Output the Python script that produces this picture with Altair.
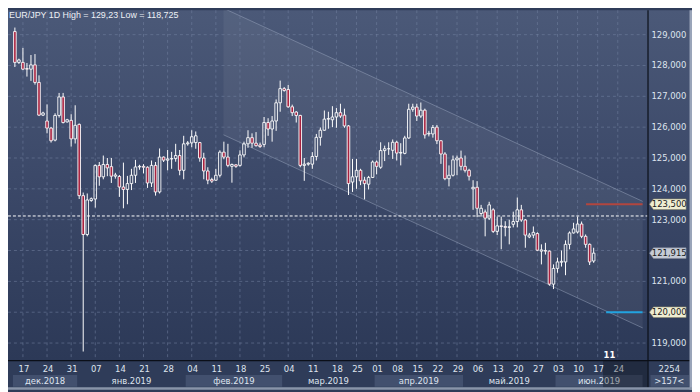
import altair as alt
import pandas as pd

# ---------------- data ----------------
opens = [129.10,128.10,128.10,127.90,127.88,128.02,127.45,126.39,126.20,125.97,
         125.58,126.38,126.98,126.17,126.22,125.62,126.09,123.78,122.52,123.62,
         123.67,124.76,124.39,124.79,124.72,124.41,124.40,124.06,123.98,124.17,
         124.44,124.71,124.73,124.70,124.19,124.76,123.90,125.03,124.93,124.97,
         124.98,125.08,124.60,125.46,125.49,125.50,125.50,125.00,124.58,124.30,
         124.28,124.44,125.19,125.03,124.73,124.78,124.76,125.10,125.46,125.66,
         125.48,125.42,125.44,126.15,125.94,126.20,126.79,127.25,127.22,126.66,
         126.49,126.38,124.76,124.80,124.80,125.05,125.67,125.90,126.26,126.24,
         126.33,126.47,126.39,126.04,124.22,124.39,124.60,124.28,124.15,124.37,
         124.87,124.70,125.24,125.30,125.25,125.51,125.16,125.15,125.65,126.58,
         126.65,126.36,126.55,125.78,125.78,126.00,125.56,125.13,124.33,124.44,
         124.94,125.00,124.73,124.60,124.00,124.05,123.20,123.25,123.05,123.32,
         122.62,122.80,122.78,122.75,122.85,122.94,123.32,122.99,122.44,122.50,
         122.55,121.98,122.00,121.98,120.91,121.42,121.62,121.63,122.20,122.57,
         122.60,122.86,122.46,122.20,121.66]
highs = [129.23,128.22,128.57,128.08,128.34,128.37,127.68,126.50,126.74,126.00,
         126.45,127.11,127.11,126.27,126.42,126.71,126.12,123.88,123.85,123.72,
         124.79,124.87,125.08,125.00,125.00,124.52,124.45,124.85,124.42,124.65,
         124.94,124.78,124.80,124.73,124.92,124.87,125.31,125.05,125.26,125.20,
         125.46,125.26,125.72,125.55,125.90,125.86,125.52,125.17,124.70,124.36,
         124.65,125.25,125.53,125.46,124.82,124.80,125.25,125.53,125.90,125.80,
         125.84,125.50,126.33,126.29,126.36,126.90,127.51,127.30,127.37,126.73,
         126.52,126.40,125.00,124.86,125.19,125.78,125.99,126.54,126.50,126.68,
         126.62,126.76,126.60,126.07,124.97,124.97,124.65,124.39,124.42,124.92,
         124.92,125.51,125.40,125.51,125.60,125.56,125.48,125.72,126.76,126.76,
         126.76,126.80,126.60,125.88,126.07,126.07,125.58,125.19,124.76,125.08,
         125.08,125.24,125.08,124.65,124.28,124.25,123.48,123.33,123.58,123.37,
         123.10,123.10,122.95,123.00,123.26,123.72,123.48,123.02,122.57,122.78,
         122.59,122.20,122.25,122.00,121.55,121.77,122.00,122.33,122.62,122.90,
         123.10,122.94,122.52,122.23,122.09]
lows = [127.95,128.05,127.85,127.64,127.50,127.38,126.36,126.36,125.80,125.50,
        125.54,126.31,126.12,126.15,125.37,125.47,123.67,118.725,122.46,123.58,
        123.39,124.10,124.31,124.41,124.19,124.33,123.74,123.37,123.50,123.96,
        124.19,124.62,124.50,124.03,124.06,123.78,123.85,124.87,124.60,124.65,
        124.88,124.44,124.31,125.40,125.35,125.30,124.88,124.31,124.15,124.19,
        124.26,124.37,124.96,124.70,124.20,124.68,124.72,125.02,125.33,125.33,
        125.37,125.33,125.35,125.72,125.53,125.88,126.50,127.15,126.63,126.36,
        126.15,124.70,124.26,124.75,124.65,124.92,125.40,125.88,125.95,126.00,
        125.98,126.30,125.98,123.80,123.90,124.00,124.12,123.66,123.98,124.35,
        124.47,124.65,124.90,125.10,124.97,124.92,124.76,125.12,125.62,126.50,
        126.20,126.30,125.63,125.70,125.66,125.45,124.81,124.28,124.08,124.40,
        124.44,124.60,124.53,124.27,123.32,123.08,123.10,122.46,122.99,122.57,
        122.50,122.04,122.46,122.20,122.75,122.75,122.93,122.09,122.40,122.40,
        121.98,121.55,121.87,120.86,120.75,121.28,121.48,121.20,122.04,122.55,
        122.55,122.40,122.09,121.53,121.60]
closes = [128.10,128.18,127.88,127.88,128.02,127.45,126.39,126.46,125.97,125.56,
          126.38,126.98,126.15,126.24,125.62,126.06,123.78,122.52,123.64,123.68,
          124.76,124.39,124.79,124.68,124.41,124.45,124.06,123.98,124.17,124.44,
          124.71,124.73,124.70,124.19,124.76,123.90,125.03,124.93,124.97,124.98,
          125.08,124.60,125.46,125.49,125.69,125.72,125.00,124.58,124.28,124.25,
          124.44,125.19,125.03,124.76,124.79,124.73,125.10,125.46,125.66,125.48,
          125.40,125.37,126.15,125.94,126.20,126.79,127.25,127.19,126.66,126.47,
          126.38,124.76,124.80,124.83,125.05,125.67,125.90,126.26,126.28,126.33,
          126.47,126.36,126.04,124.17,124.39,124.60,124.26,124.17,124.37,124.87,
          124.73,125.24,125.30,125.30,125.51,125.16,125.18,125.65,126.58,126.65,
          126.36,126.55,125.75,125.80,125.99,125.56,125.13,124.33,124.44,124.94,
          125.00,124.73,124.60,124.41,124.05,123.37,123.37,123.05,123.48,122.62,
          122.80,122.78,122.75,122.77,122.94,123.32,122.99,122.50,122.50,122.59,
          122.01,122.02,121.98,120.91,121.42,121.63,121.65,122.20,122.57,122.70,
          122.86,122.46,122.20,121.63,121.915]

price_ticks = [119, 120, 121, 122, 123, 124, 125, 126, 127, 128, 129]
price_labels_shown = [119, 121, 123, 124, 125, 126, 127, 128, 129]  # 120 and 122 sit under the tags
week_labels = ["17", "24", "31", "07", "14", "21", "28", "04", "11", "18", "25", "04", "11", "18",
               "25", "01", "08", "15", "22", "29", "06", "13", "20", "27", "03", "10", "17", "24"]
week_idx = [2, 8, 14, 20, 26, 32, 38, 44, 50, 56, 62, 68, 74, 80,
            85, 90, 95, 100, 105, 110, 115, 120, 125, 130, 135, 140, 145, 150]
month_names = ["дек.2018", "янв.2019", "фев.2019", "мар.2019", "апр.2019", "май.2019", "июн.2019"]
month_start = [-0.48, 15.5, 42.5, 66.5, 89.5, 111.5, 134.5]
month_end = [15.5, 42.5, 66.5, 89.5, 111.5, 134.5, 156.17]
month_shaded = [True, False, True, False, True, False, True]

channel_idx = [51.9, 156.2]
channel_upper = [129.856, 123.594]
channel_lower = [125.753, 119.49]

dashed_level = 123.12
red_level, red_from = 123.5, 142.1
blue_level, blue_from = 120.0, 147.1
level_tags = [123.5, 120.0]
last_price = 121.915
title_text = "EUR/JPY 1D  High = 129,23 Low = 118,725"
corner_top, corner_bottom = "2254", ">157<"
marker_text = "11"

# ---------------- layout ----------------
W, H = 647, 354
AXW, AXH = 45, 30
XMIN, XMAX = -0.484, 156.17
FONT = "Liberation Sans Narrow, DejaVu Sans Condensed, Liberation Sans, sans-serif"
TXT = "#dfe4ee"

xs = alt.Scale(domain=[XMIN, XMAX], nice=False, zero=False)
ys = alt.Scale(domain=[118.446, 129.792], nice=False, zero=False)


def X(f, **kw):
    return alt.X(f, type="quantitative", scale=xs, axis=None, **kw)


def Y(f, **kw):
    return alt.Y(f, type="quantitative", scale=ys, axis=None, **kw)


def fmt(v):
    return f"{v:.3f}".replace(".", ",")


one = pd.DataFrame({"a": [0]})

df = pd.DataFrame({"i": range(len(opens)), "o": opens, "h": highs, "l": lows, "c": closes})
df["top"] = df[["o", "c"]].max(axis=1)
df["bot"] = df[["o", "c"]].min(axis=1)
df["bear"] = df["c"] < df["o"]

grad = alt.Gradient(gradient="linear", x1=0, x2=0, y1=0, y2=1,
                    stops=[alt.GradientStop(color="#4b5978", offset=0),
                           alt.GradientStop(color="#3b4868", offset=0.5),
                           alt.GradientStop(color="#2c3957", offset=1)])
bg = alt.Chart(one).mark_rect(fill=grad).encode(
    x=alt.value(0), x2=alt.value(W + AXW), y=alt.value(0), y2=alt.value(H))

chan = pd.DataFrame({"i": channel_idx, "up": channel_upper, "lo": channel_lower})
chan_area = alt.Chart(chan).mark_area(color="white", opacity=0.055, clip=True).encode(
    x=X("i"), y=Y("up"), y2="lo")
chan_up = alt.Chart(chan).mark_line(color="#9aa6bf", opacity=0.5, strokeWidth=1, clip=True).encode(
    x=X("i"), y=Y("up"))
chan_lo = alt.Chart(chan).mark_line(color="#9aa6bf", opacity=0.5, strokeWidth=1, clip=True).encode(
    x=X("i"), y=Y("lo"))

pt = pd.DataFrame({"p": price_ticks})
hgrid = alt.Chart(pt).mark_rule(color="#7381a0", opacity=0.55, strokeDash=[3, 3], strokeWidth=1).encode(
    y=Y("p"), x=alt.value(0), x2=alt.value(W))
pl = pd.DataFrame({"p": price_labels_shown})
pl["lab"] = pl["p"].map(fmt)

wk = pd.DataFrame({"i": week_idx, "lab": week_labels})
vgrid = alt.Chart(wk).mark_rule(color="#7381a0", opacity=0.55, strokeDash=[3, 3], strokeWidth=1).encode(
    x=X("i"), y=alt.value(0), y2=alt.value(H))

dash_line = alt.Chart(pd.DataFrame({"p": [dashed_level]})).mark_rule(
    color="white", strokeDash=[3, 2], strokeWidth=1).encode(y=Y("p"), x=alt.value(0), x2=alt.value(W))

wick_up = alt.Chart(df).mark_rule(color="white", strokeWidth=1).encode(x=X("i"), y=Y("h"), y2="top")
wick_lo = alt.Chart(df).mark_rule(color="white", strokeWidth=1).encode(x=X("i"), y=Y("bot"), y2="l")
bodies = alt.Chart(df).mark_bar(size=2.6, stroke="white", strokeWidth=0.9).encode(
    x=X("i"), y=Y("o"), y2="c",
    fill=alt.condition("datum.bear", alt.value("#a8213f"), alt.value("transparent")))

lv = pd.DataFrame({"p": [red_level], "x0": [red_from], "x1": [XMAX]})
red_line = alt.Chart(lv).mark_rule(color="#b2463f", strokeWidth=2).encode(x=X("x0"), x2="x1", y=Y("p"))
bv = pd.DataFrame({"p": [blue_level], "x0": [blue_from], "x1": [XMAX]})
blue_line = alt.Chart(bv).mark_rule(color="#22a3e0", strokeWidth=2).encode(x=X("x0"), x2="x1", y=Y("p"))

# bottom axis
mo = pd.DataFrame({"name": month_names, "s": month_start, "e": month_end, "sh": month_shaded})
mo["mid"] = (mo["s"] + mo["e"]) / 2
bands = alt.Chart(mo[mo["sh"]]).mark_rect(color="#42506e").encode(
    x=X("s"), x2="e", y=alt.value(H + 15), y2=alt.value(H + 27))
corner_band = alt.Chart(one).mark_rect(color="#42506e").encode(
    x=alt.value(W + 3), x2=alt.value(W + 42), y=alt.value(H + 15), y2=alt.value(H + 27))
month_txt = alt.Chart(mo).mark_text(font=FONT, fontSize=9.5, color=TXT, baseline="middle").encode(
    x=X("mid"), y=alt.value(H + 21), text="name")
day_txt = alt.Chart(wk).mark_text(font=FONT, fontSize=9.5, color=TXT, baseline="middle", dx=1).encode(
    x=X("i"), y=alt.value(H + 9), text="lab")

hline_black = alt.Chart(one).mark_rule(color="#0b0f18", strokeWidth=1.2).encode(
    x=alt.value(0), x2=alt.value(W + AXW), y=alt.value(H + 0.5))
vline_black = alt.Chart(one).mark_rule(color="#0b0f18", strokeWidth=1.2).encode(
    x=alt.value(W + 0.5), y=alt.value(0), y2=alt.value(H + 28))

# price axis labels
plabels = alt.Chart(pl).mark_text(font=FONT, fontSize=9.5, color=TXT, align="left", baseline="middle").encode(
    y=Y("p"), x=alt.value(W + 4), text="lab")

TAG = "M -1 0 L -0.78 -0.29 L 1 -0.29 L 1 0.29 L -0.78 0.29 Z"
lt = pd.DataFrame({"p": level_tags})
lt["lab"] = lt["p"].map(fmt)
tags_lv = alt.Chart(lt).mark_point(shape=TAG, size=1369, filled=True, fill="#efedd2",
                                   stroke="#8d8a6e", strokeWidth=0.6, opacity=1).encode(
    y=Y("p"), x=alt.value(W + 20.5))
tags_lv_txt = alt.Chart(lt).mark_text(font=FONT, fontSize=9.5, color="#1b1b1b", baseline="middle").encode(
    y=Y("p"), x=alt.value(W + 22), text="lab")
cp = pd.DataFrame({"p": [last_price], "lab": [fmt(last_price)]})
tag_cp = alt.Chart(cp).mark_point(shape=TAG, size=1369, filled=True, fill="#c5cbd6",
                                  stroke="#7d8596", strokeWidth=0.6, opacity=1).encode(
    y=Y("p"), x=alt.value(W + 20.5))
tag_cp_txt = alt.Chart(cp).mark_text(font=FONT, fontSize=9.5, color="#1b1b1b", baseline="middle").encode(
    y=Y("p"), x=alt.value(W + 22), text="lab")

overlay = alt.Chart(one).mark_rect(color="black", opacity=0.28).encode(
    x=alt.value(602), x2=alt.value(W), y=alt.value(H + 1), y2=alt.value(H + 28))
marker = alt.Chart(pd.DataFrame({"t": [marker_text]})).mark_text(
    font=FONT, fontSize=9.5, fontWeight="bold", color="white", baseline="middle").encode(
    x=alt.value(608.5), y=alt.value(H - 5), text="t")
corner = alt.Chart(pd.DataFrame({"t": [corner_top, corner_bottom], "yy": [H + 9, H + 21]})).mark_text(
    font=FONT, fontSize=9.5, color=TXT, baseline="middle").encode(
    x=alt.value(W + 22), y=alt.Y("yy:Q", scale=None), text="t")

frame_r = alt.Chart(one).mark_rect(color="#9aa5b9").encode(
    x=alt.value(W + AXW - 2.5), x2=alt.value(W + AXW), y=alt.value(0), y2=alt.value(H + AXH))
frame_b = alt.Chart(one).mark_rect(color="#8994a9").encode(
    x=alt.value(0), x2=alt.value(W + AXW), y=alt.value(H + 27.5), y2=alt.value(H + AXH))

title = alt.Chart(pd.DataFrame({"t": [title_text]})).mark_text(
    font="Liberation Sans, Arial, sans-serif", fontSize=9, color="#eef1f6", align="left", baseline="top").encode(
    x=alt.value(1), y=alt.value(0.5), text="t")

chart = alt.layer(
    bg, chan_area, hgrid, vgrid, chan_up, chan_lo, dash_line,
    wick_up, wick_lo, bodies, red_line, blue_line,
    bands, corner_band, month_txt, day_txt, hline_black, vline_black,
    plabels, tags_lv, tags_lv_txt, tag_cp, tag_cp_txt,
    overlay, marker, corner, frame_r, frame_b, title,
).properties(
    width=W, height=H,
    padding={"left": 0, "top": 0, "right": AXW, "bottom": AXH},
    autosize=alt.AutoSizeParams(type="none"),
    background="#2f3c59",
).configure_view(strokeWidth=0)

chart.save("out.html", embed_options={"renderer": "svg", "actions": False})
